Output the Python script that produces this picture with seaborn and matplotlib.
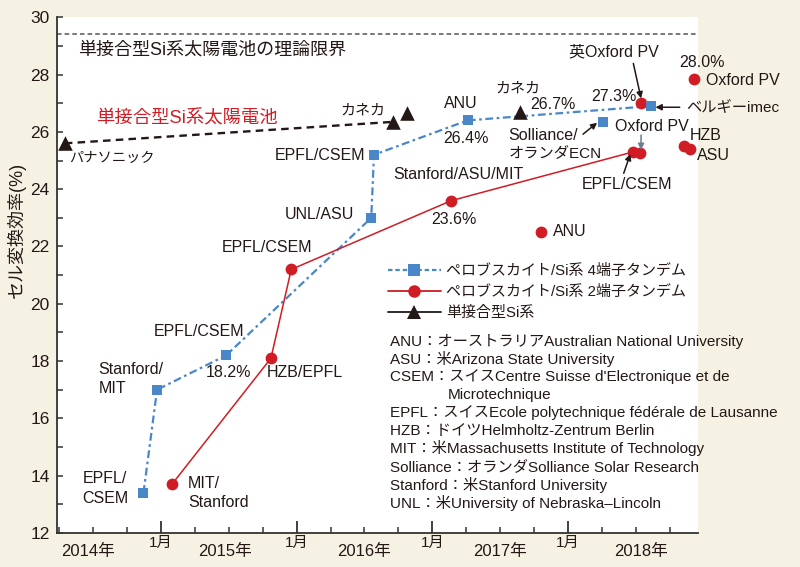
import matplotlib.pyplot as plt
import matplotlib.ticker as mticker
from matplotlib.lines import Line2D
import seaborn as sns

plt.switch_backend('Agg')
sns.set_theme(style="white")
# 欧文はArial相当、和文はNoto Sans CJK JPにフォールバック
plt.rcParams['font.family'] = ['Liberation Sans', 'Noto Sans CJK JP', 'DejaVu Sans']

BG = '#f6f2e3'
BLUE = '#4a87c8'
RED = '#d01c24'
DARK = '#231815'
DASH_BLUE = (0, (3.5, 1.6, 1.2, 1.6))

# ペロブスカイト/Si系 4端子タンデム (記録を結ぶ線)
four_x = [2014.87, 2014.97, 2015.48, 2016.55, 2016.57, 2017.26, 2018.61]
four_y = [13.4, 17.0, 18.2, 23.0, 25.2, 26.4, 26.9]
# 線で結ばない4端子の点 (Solliance/ECN)
four_x_extra = [2018.26]
four_y_extra = [26.35]

# ペロブスカイト/Si系 2端子タンデム
two_x = [2015.08, 2015.81, 2015.96, 2017.14, 2018.48]
two_y = [13.7, 18.1, 21.2, 23.6, 25.3]
# ANU, EPFL/CSEM, Oxford PV 27.3%, HZB, ASU, Oxford PV 28.0%
two_x_extra = [2017.80, 2018.53, 2018.54, 2018.86, 2018.90, 2018.93]
two_y_extra = [22.5, 25.25, 27.0, 25.5, 25.4, 27.85]

# 単接合型Si系 (パナソニック, カネカ)
si_x = [2014.29, 2016.71]
si_y = [25.6, 26.35]
si_x_extra = [2016.81, 2017.65]
si_y_extra = [26.65, 26.7]

SI_LIMIT = 29.4

x_major = [2015, 2016, 2017, 2018]
x_major_labels = ['1月', '1月', '1月', '1月']
year_labels = ['2014年', '2015年', '2016年', '2017年', '2018年']
year_label_x = [2014.46, 2015.47, 2016.5, 2017.5, 2018.54]

abbr_lines = [
    'ANU：オーストラリアAustralian National University',
    'ASU：米Arizona State University',
    "CSEM：スイスCentre Suisse d'Electronique et de",
    'Microtechnique',
    'EPFL：スイスEcole polytechnique fédérale de Lausanne',
    'HZB：ドイツHelmholtz-Zentrum Berlin',
    'MIT：米Massachusetts Institute of Technology',
    'Solliance：オランダSolliance Solar Research',
    'Stanford：米Stanford University',
    'UNL：米University of Nebraska–Lincoln',
]

fig = plt.figure(figsize=(8, 5.67), dpi=100, facecolor=BG)
ax = fig.add_axes([0.0709, 0.0600, 0.8016, 0.9095])
ax.set_facecolor('white')

# 理論限界
ax.axhline(SI_LIMIT, color='#555555', lw=1.1, linestyle=(0, (3, 2)), zorder=1)

# 線
sns.lineplot(x=si_x, y=si_y, sort=False, estimator=None, ax=ax, color=DARK,
             lw=1.7, linestyle=(0, (3.2, 2.2)))
sns.lineplot(x=four_x, y=four_y, sort=False, estimator=None, ax=ax, color=BLUE,
             lw=1.6, linestyle=DASH_BLUE)
sns.lineplot(x=two_x, y=two_y, sort=False, estimator=None, ax=ax, color=RED,
             lw=1.1)

# マーカー
sns.scatterplot(x=two_x + two_x_extra, y=two_y + two_y_extra, ax=ax, color=RED,
                marker='o', s=72, linewidth=0, zorder=3, clip_on=False)
sns.scatterplot(x=four_x + four_x_extra, y=four_y + four_y_extra, ax=ax, color=BLUE,
                marker='s', s=58, linewidth=0, zorder=4, clip_on=False)
sns.scatterplot(x=si_x + si_x_extra, y=si_y + si_y_extra, ax=ax, color=DARK,
                marker='^', s=110, linewidth=0, zorder=5, clip_on=False)

ax.set_xlim(2014.23, 2018.96)
ax.set_ylim(12, 30)

# 軸
for side in ['top', 'right']:
    ax.spines[side].set_visible(False)
for side in ['left', 'bottom']:
    ax.spines[side].set_color('#333333')
    ax.spines[side].set_linewidth(1.3)

ax.yaxis.set_major_locator(mticker.MultipleLocator(2))
ax.yaxis.set_minor_locator(mticker.MultipleLocator(1))
ax.set_xticks(x_major)
ax.set_xticklabels(x_major_labels)
ax.xaxis.set_minor_locator(mticker.MultipleLocator(0.25))
ax.tick_params(axis='y', which='both', direction='in', length=4.5, width=1.1,
               color='#333333', labelsize=12.5, pad=5, left=True)
ax.tick_params(axis='x', which='major', direction='in', length=9, width=1.3,
               color='#333333', labelsize=11, pad=2, bottom=True)
ax.tick_params(axis='x', which='minor', direction='in', length=4.5, width=1.1,
               color='#333333', bottom=True)
for lab in ax.get_xticklabels() + ax.get_yticklabels():
    lab.set_color(DARK)

for xv, s in zip(year_label_x, year_labels):
    ax.text(xv, -0.036, s, transform=ax.get_xaxis_transform(), ha='center',
            va='center', fontsize=12, color=DARK)

fig.text(16 / 800, 1 - 230 / 567, 'セル変換効率(%)', rotation=90, ha='center',
         va='center', fontsize=13, color=DARK)

# 注記
FS = 11.5


def lab(x, y, s, ha='center', **kw):
    ax.text(x, y, s, ha=ha, va='center', fontsize=kw.pop('fontsize', FS),
            color=kw.pop('color', DARK), **kw)


lab(2014.39, 28.86, '単接合型Si系太陽電池の理論限界', ha='left', fontsize=13)
lab(2014.52, 26.46, '単接合型Si系太陽電池', ha='left', fontsize=13.2, color=RED)
lab(2014.32, 25.08, 'パナソニック', ha='left', fontsize=10.3)
lab(2016.49, 26.74, 'カネカ', fontsize=10.8)
lab(2017.63, 27.52, 'カネカ', fontsize=10.8)
lab(2017.21, 27.0, 'ANU')
lab(2017.25, 25.78, '26.4%')
lab(2017.89, 26.97, '26.7%')
lab(2018.34, 28.78, '英Oxford PV')
lab(2018.99, 28.42, '28.0%')
lab(2019.02, 27.78, 'Oxford PV', ha='left')
lab(2018.34, 27.25, '27.3%')
lab(2018.87, 26.86, 'ベルギーimec', ha='left', fontsize=11)
lab(2017.56, 25.89, 'Solliance/', ha='left')
lab(2017.56, 25.25, 'オランダECN', ha='left', fontsize=11)
lab(2018.35, 26.18, 'Oxford PV', ha='left')
lab(2018.90, 25.89, 'HZB', ha='left')
lab(2018.95, 25.19, 'ASU', ha='left')
lab(2018.44, 24.17, 'EPFL/CSEM')
lab(2017.19, 24.50, 'Stanford/ASU/MIT')
lab(2017.16, 22.93, '23.6%')
lab(2016.51, 25.18, 'EPFL/CSEM', ha='right')
lab(2016.42, 23.10, 'UNL/ASU', ha='right')
lab(2015.78, 21.95, 'EPFL/CSEM')
lab(2015.28, 19.02, 'EPFL/CSEM')
lab(2015.50, 17.59, '18.2%')
lab(2015.78, 17.59, 'HZB/EPFL', ha='left')
lab(2014.54, 17.69, 'Stanford/', ha='left')
lab(2014.54, 17.03, 'MIT', ha='left')
lab(2014.42, 13.89, 'EPFL/', ha='left')
lab(2014.42, 13.22, 'CSEM', ha='left')
lab(2015.20, 13.71, 'MIT/', ha='left')
lab(2015.20, 13.08, 'Stanford', ha='left')
lab(2017.89, 22.51, 'ANU', ha='left')

# 矢印
arrows = [
    ((2018.483, 28.39), (2018.540, 27.17), DARK),
    ((2018.825, 26.86), (2018.646, 26.86), DARK),
    ((2018.112, 25.92), (2018.216, 26.32), DARK),
    ((2018.540, 25.89), (2018.540, 25.37), '#6b7f93'),
    ((2018.412, 24.555), (2018.461, 25.23), DARK),
]
for start, tip, c in arrows:
    ax.annotate('', xy=tip, xytext=start,
                arrowprops=dict(arrowstyle='-|>', color=c, lw=1.1,
                                mutation_scale=9, shrinkA=0, shrinkB=0))

# 凡例
handles = [
    Line2D([], [], color=BLUE, lw=1.6, linestyle=(0, (2.0, 1.3)), marker='s',
           markersize=8, markeredgewidth=0),
    Line2D([], [], color=RED, lw=1.3, marker='o', markersize=9, markeredgewidth=0),
    Line2D([], [], color=DARK, lw=1.3, marker='^', markersize=10, markeredgewidth=0),
]
labels = ['ペロブスカイト/Si系 4端子タンデム', 'ペロブスカイト/Si系 2端子タンデム', '単接合型Si系']
fig.legend(handles, labels, loc='upper left', bbox_to_anchor=(388 / 800, 1 - 264 / 567),
           frameon=False, fontsize=10.8, handlelength=3.5, handletextpad=0.4,
           labelspacing=0.47, borderpad=0, borderaxespad=0, labelcolor=DARK)

# 略称一覧
abbr_y = [341.7, 358.8, 376.6, 394.6, 413.0, 431.0, 448.5, 466.6, 484.8, 503.0]
for s, yy in zip(abbr_lines, abbr_y):
    xx = 447.7 if s == 'Microtechnique' else 390.5
    fig.text(xx / 800, 1 - yy / 567, s, ha='left', va='center', fontsize=11,
             color=DARK)

plt.savefig('out.png', dpi=100, facecolor=BG)
